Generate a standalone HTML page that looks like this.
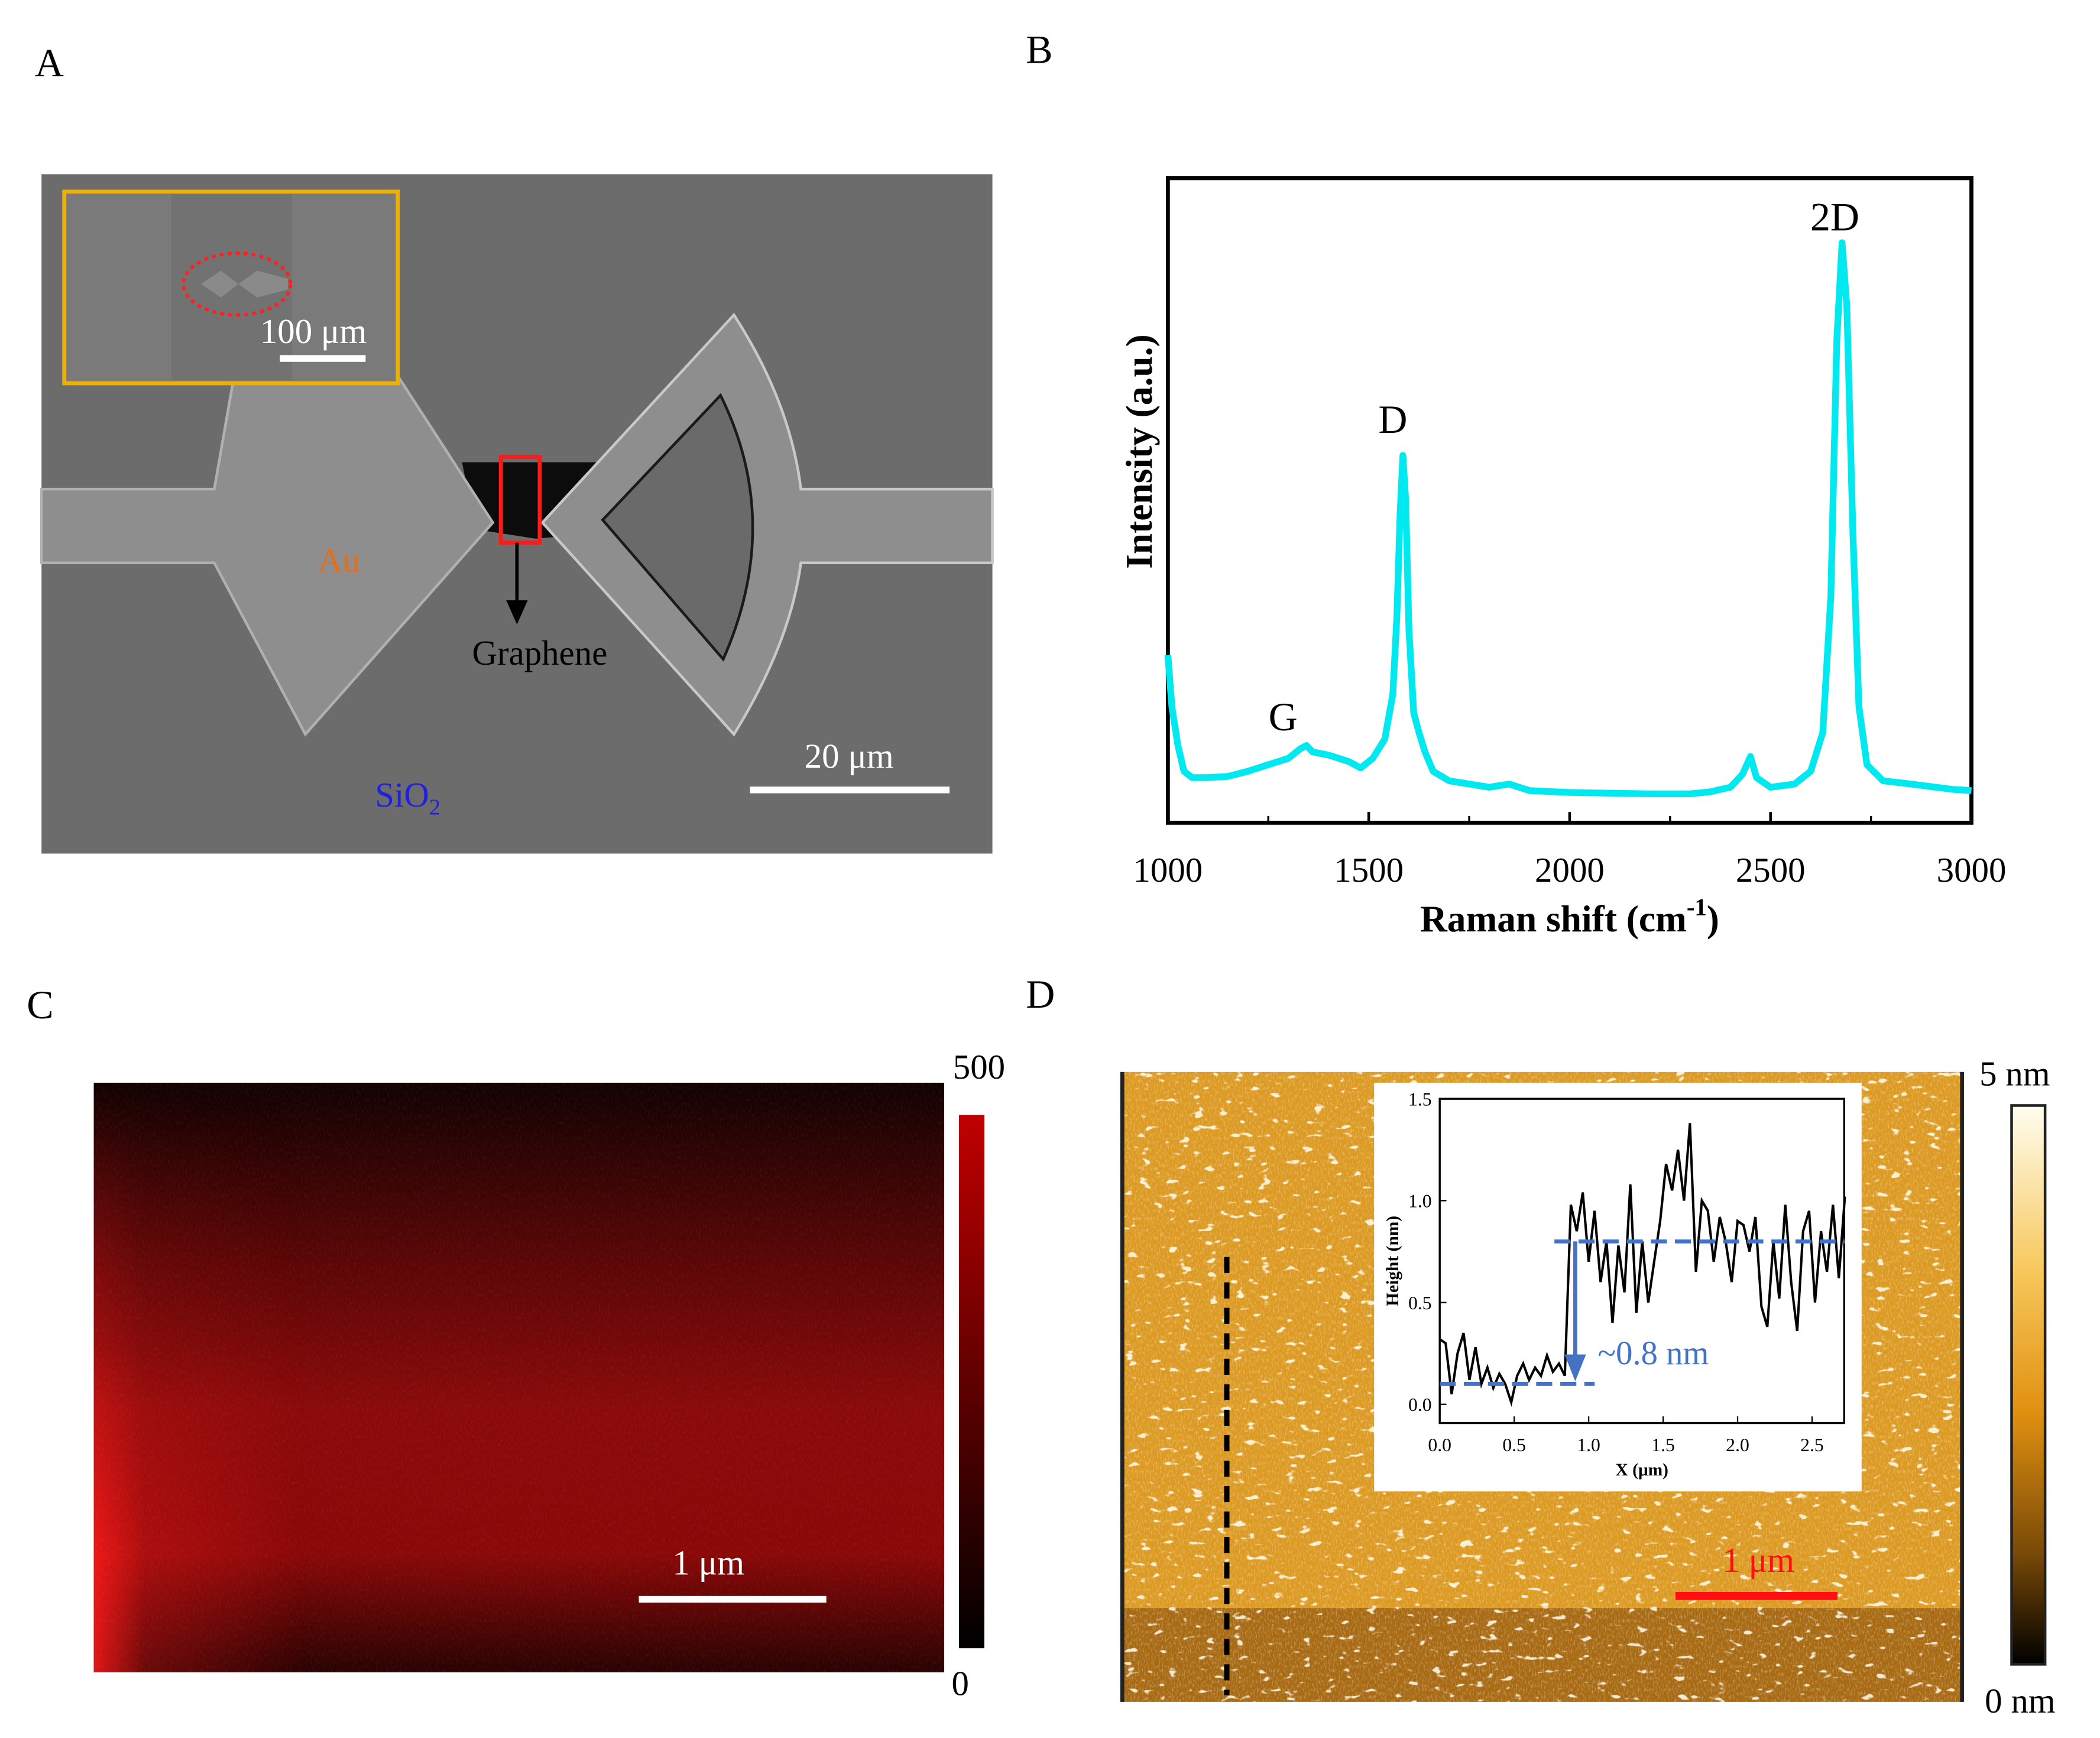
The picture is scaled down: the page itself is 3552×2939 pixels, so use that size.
<!DOCTYPE html>
<html><head><meta charset="utf-8">
<style>html,body{margin:0;padding:0;background:#fff}svg{display:block}text{font-family:"Liberation Serif",serif}</style>
</head><body>
<svg id="fig" width="3552" height="2939" viewBox="0 0 1568 1297" preserveAspectRatio="none" xmlns="http://www.w3.org/2000/svg">
<defs>
<filter id="noise" x="0" y="0" width="100%" height="100%"><feTurbulence type="fractalNoise" baseFrequency="0.9 0.35" numOctaves="2" seed="3"/><feColorMatrix values="0 0 0 0 1  0 0 0 0 1  0 0 0 0 1  0 0 0 1.6 -0.75"/></filter>
<filter id="specks" x="0" y="0" width="100%" height="100%"><feTurbulence type="fractalNoise" baseFrequency="0.1 0.2" numOctaves="2" seed="7"/><feColorMatrix values="0 0 0 0 1  0 0 0 0 1  0 0 0 0 0.9  0 0 0 12 -8"/></filter>
<linearGradient id="cV" x1="0" y1="0" x2="0" y2="1"><stop offset="0" stop-color="#120202"/><stop offset="0.3" stop-color="#5a0606"/><stop offset="0.55" stop-color="#8a0a0a"/><stop offset="0.8" stop-color="#8a0808"/><stop offset="1" stop-color="#2a0202"/></linearGradient>
<linearGradient id="cL" x1="0" y1="0" x2="1" y2="0"><stop offset="0" stop-color="#ff1a1a" stop-opacity="0.85"/><stop offset="0.06" stop-color="#ff1a1a" stop-opacity="0.3"/><stop offset="0.25" stop-color="#ff1a1a" stop-opacity="0"/></linearGradient>
<linearGradient id="cLmask" x1="0" y1="0" x2="0" y2="1"><stop offset="0" stop-color="#fff" stop-opacity="0"/><stop offset="0.45" stop-color="#fff" stop-opacity="0.35"/><stop offset="0.8" stop-color="#fff" stop-opacity="1"/><stop offset="1" stop-color="#fff" stop-opacity="1"/></linearGradient>
<mask id="cm"><rect x="70" y="808" width="635" height="440" fill="url(#cLmask)"/></mask>
<linearGradient id="cBar" x1="0" y1="0" x2="0" y2="1"><stop offset="0" stop-color="#c00000"/><stop offset="1" stop-color="#000"/></linearGradient>
<linearGradient id="dBar" x1="0" y1="0" x2="0" y2="1"><stop offset="0" stop-color="#fffdf0"/><stop offset="0.3" stop-color="#f7c75a"/><stop offset="0.55" stop-color="#e09010"/><stop offset="0.8" stop-color="#7a4a08"/><stop offset="1" stop-color="#000"/></linearGradient>
</defs>

<text x="26" y="57" font-size="30">A</text>
<text x="766" y="47" font-size="30">B</text>
<text x="20" y="760" font-size="30">C</text>
<text x="766" y="752" font-size="30">D</text>

<!-- Panel A -->
<g>
<rect x="31" y="130" width="710" height="507" fill="#6c6c6c"/>
<path d="M345,345 L470,345 L480,395 L400,402 L355,395 Z" fill="#0c0c0c"/>
<polygon points="31,365 160,365 178,262 285,262 368,390 228,548 160,420 31,420" fill="#8e8e8e" stroke="#b0b0b0" stroke-width="2"/>
<path d="M405,390 L548,235 Q590,300 598,365 L741,365 L741,420 L598,420 Q590,480 548,548 Z" fill="#8e8e8e" stroke="#c8c8c8" stroke-width="2"/>
<path d="M450,388 L538,295 Q585,390 540,492 Z" fill="#6a6a6a" stroke="#1a1a1a" stroke-width="2"/>
<rect x="48" y="143" width="249" height="143" fill="#7a7a7a" stroke="#f0b000" stroke-width="3"/>
<rect x="128" y="145" width="90" height="139" fill="#727272"/>
<polygon points="150,212 165,202 178,212 165,222" fill="#8a8a8a"/>
<polygon points="178,212 192,202 215,208 215,216 192,222" fill="#8a8a8a"/>
<ellipse cx="177" cy="212" rx="40" ry="23" fill="none" stroke="#ff2020" stroke-width="2.5" stroke-dasharray="3 3"/>
<text x="234" y="256" font-size="26" fill="#fff" text-anchor="middle">100 μm</text>
<rect x="209" y="265" width="64" height="5" fill="#fff"/>
<rect x="374" y="341" width="29" height="64" fill="none" stroke="#ff1a1a" stroke-width="3"/>
<line x1="386" y1="405" x2="386" y2="452" stroke="#000" stroke-width="2.5"/>
<polygon points="378,448 394,448 386,466" fill="#000"/>
<text x="403" y="496" font-size="26" text-anchor="middle">Graphene</text>
<text x="253" y="427" font-size="26" fill="#e07020" text-anchor="middle">Au</text>
<text x="280" y="602" font-size="26" fill="#2020e0">SiO<tspan font-size="17" dy="6">2</tspan></text>
<text x="634" y="573" font-size="26" fill="#fff" text-anchor="middle">20 μm</text>
<rect x="560" y="587" width="149" height="5" fill="#fff"/>
</g>

<!-- Panel B -->
<g id="raman">
<rect x="872" y="133" width="600" height="481" fill="none" stroke="#000" stroke-width="3"/>
<text x="0" y="0" transform="translate(860,337) rotate(-90)" font-size="28" font-weight="bold" text-anchor="middle">Intensity (a.u.)</text>
<text x="1172" y="695" font-size="28" font-weight="bold" text-anchor="middle">Raman shift (cm<tspan font-size="18" dy="-12">-1</tspan><tspan dy="12">)</tspan></text>
<text x="958" y="545" font-size="30" text-anchor="middle">G</text>
<text x="1040" y="323" font-size="30" text-anchor="middle">D</text>
<text x="1370" y="172" font-size="30" text-anchor="middle">2D</text>
</g>

<!-- Panel C -->
<g>
<rect x="70" y="808" width="635" height="440" fill="url(#cV)"/>
<rect x="70" y="808" width="635" height="440" fill="url(#cL)" mask="url(#cm)"/>
<rect x="70" y="808" width="635" height="440" filter="url(#noise)" opacity="0.08"/>
<rect x="477" y="1191" width="140" height="5" fill="#fff"/>
<text x="529" y="1175" font-size="26" fill="#fff" text-anchor="middle">1 μm</text>
<rect x="716" y="832" width="19" height="398" fill="url(#cBar)"/>
<text x="731" y="805" font-size="26" text-anchor="middle">500</text>
<text x="717" y="1265" font-size="26" text-anchor="middle">0</text>
</g>

<!-- Panel D -->
<g>
<rect x="838" y="800" width="627" height="470" fill="#dc9a22"/>
<rect x="838" y="1200" width="627" height="70" fill="#a86a12"/>
<rect x="838" y="800" width="627" height="470" filter="url(#noise)" opacity="0.5"/>
<rect x="838" y="800" width="627" height="470" filter="url(#specks)" opacity="0.85"/>
<line x1="838" y1="800" x2="838" y2="1270" stroke="#222" stroke-width="3"/>
<line x1="1465" y1="800" x2="1465" y2="1270" stroke="#222" stroke-width="3"/>
<line x1="916" y1="938" x2="916" y2="1265" stroke="#000" stroke-width="4" stroke-dasharray="12 7"/>
<rect x="1251" y="1188" width="121" height="6" fill="#ff1010"/>
<text x="1313" y="1173" font-size="26" fill="#ff1010" text-anchor="middle">1 μm</text>
<rect x="1502" y="825" width="25" height="417" fill="url(#dBar)" stroke="#222" stroke-width="2"/>
<text x="1478" y="810" font-size="26">5 nm</text>
<text x="1482" y="1278" font-size="26">0 nm</text>
<rect x="1026" y="808" width="364" height="305" fill="#fff"/>
</g>
<g id="profile">
<rect x="1075" y="820" width="302" height="242" fill="none" stroke="#000" stroke-width="1.5"/>
<text transform="translate(1044,941) rotate(-90)" font-size="13" font-weight="bold" text-anchor="middle">Height (nm)</text>
<text x="1226" y="1101" font-size="13" font-weight="bold" text-anchor="middle">X (μm)</text>
<text x="1193" y="1018" font-size="25" fill="#4472c4">~0.8 nm</text>
</g>
</svg>
<script>
const ramanShift=[1000,1010,1025,1040,1060,1100,1150,1200,1250,1300,1330,1345,1360,1400,1450,1480,1510,1540,1560,1570,1578,1585,1592,1600,1612,1625,1640,1660,1700,1800,1850,1900,2000,2100,2200,2300,2350,2400,2430,2450,2465,2500,2560,2600,2630,2650,2665,2678,2690,2705,2720,2740,2780,2850,2950,3000];
const ramanIntensity=[26,18,12,8,7,7,7.2,8,9,10,11.5,12,11,10.5,9.5,8.5,10,13,20,32,48,57,50,30,17,14,11,8,6.5,5.5,6,5,4.7,4.6,4.5,4.5,4.8,5.5,7.5,10.3,7,5.5,6,8,14,35,75,90,80,45,18,9,6.5,6,5.2,5];
const ramanTicks=[1000,1500,2000,2500,3000];
const profileX=[0.00,0.04,0.08,0.12,0.16,0.20,0.24,0.28,0.32,0.36,0.40,0.44,0.48,0.52,0.56,0.60,0.64,0.68,0.72,0.76,0.80,0.84,0.88,0.92,0.96,1.00,1.04,1.08,1.12,1.16,1.20,1.24,1.28,1.32,1.36,1.40,1.44,1.48,1.52,1.56,1.60,1.64,1.68,1.72,1.76,1.80,1.84,1.88,1.92,1.96,2.00,2.04,2.08,2.12,2.16,2.20,2.24,2.28,2.32,2.36,2.40,2.44,2.48,2.52,2.56,2.60,2.64,2.68,2.72];
const profileH=[0.32,0.30,0.05,0.25,0.35,0.12,0.28,0.10,0.18,0.08,0.15,0.10,0.01,0.14,0.20,0.12,0.18,0.14,0.24,0.16,0.20,0.14,0.98,0.85,1.04,0.70,0.95,0.60,0.80,0.40,0.78,0.55,1.08,0.45,0.80,0.50,0.70,0.90,1.18,1.05,1.25,1.00,1.38,0.65,1.00,0.95,0.70,0.92,0.80,0.60,0.90,0.88,0.75,0.92,0.48,0.38,0.80,0.52,0.98,0.60,0.36,0.85,0.95,0.50,0.85,0.65,0.98,0.62,1.02];
const profileXTicks=[0.0,0.5,1.0,1.5,2.0,2.5];
const profileYTicks=[0.0,0.5,1.0,1.5];
const stepLevels=[0.1,0.8];
const NS='http://www.w3.org/2000/svg';
function mk(tag,attrs,parent){const e=document.createElementNS(NS,tag);for(const k in attrs)e.setAttribute(k,attrs[k]);parent.appendChild(e);return e;}
const rx=v=>872+(v-1000)/2000*600, ry=v=>614-v/100*481;
const rg=document.getElementById('raman');
ramanTicks.forEach(t=>{
 const l=mk('line',{x1:rx(t),x2:rx(t),y1:614,y2:606,stroke:'#000','stroke-width':2},rg);
 
 
 const tx=mk('text',{x:rx(t),y:658,'font-size':26,'text-anchor':'middle'},rg);tx.textContent=t;
 
 
});
for(let i=0;i<ramanTicks.length-1;i++){const m=(ramanTicks[i]+ramanTicks[i+1])/2;mk('line',{x1:rx(m),x2:rx(m),y1:614,y2:609,stroke:'#000','stroke-width':1.5},rg);}
let d='';ramanShift.forEach((v,i)=>{d+=(i?'L':'M')+rx(v).toFixed(1)+','+ry(ramanIntensity[i]).toFixed(1);});
const rp=mk('path',{d:d,fill:'none',stroke:'#00e8f0','stroke-width':5,'stroke-linejoin':'round'},rg);


const px=v=>1075+v*111.2, py=v=>1048-v*152;
const pg=document.getElementById('profile');
profileXTicks.forEach(t=>{
 mk('line',{x1:px(t),x2:px(t),y1:1062,y2:1057,stroke:'#000','stroke-width':1},pg);
 const tx=mk('text',{x:px(t),y:1083,'font-size':14,'text-anchor':'middle'},pg);tx.textContent=t.toFixed(1);
 
 
});
profileYTicks.forEach(t=>{
 mk('line',{x1:1075,x2:1080,y1:py(t),y2:py(t),stroke:'#000','stroke-width':1},pg);
 const tx=mk('text',{x:1069,y:py(t)+5,'font-size':14,'text-anchor':'end'},pg);tx.textContent=t.toFixed(1);
 
 
});
let pd='';profileX.forEach((v,i)=>{pd+=(i?'L':'M')+px(v).toFixed(1)+','+py(profileH[i]).toFixed(1);});
const pl=mk('path',{d:pd,fill:'none',stroke:'#000','stroke-width':1.8},pg);


const lo=mk('line',{x1:px(0),x2:px(1.04),y1:py(stepLevels[0]),y2:py(stepLevels[0]),stroke:'#4472c4','stroke-width':3,'stroke-dasharray':'12 6'},pg);


const hi=mk('line',{x1:px(0.77),x2:px(2.72),y1:py(stepLevels[1]),y2:py(stepLevels[1]),stroke:'#4472c4','stroke-width':3,'stroke-dasharray':'12 6'},pg);


const ax=px(0.91);
const ar=mk('line',{x1:ax,x2:ax,y1:py(stepLevels[1]),y2:py(stepLevels[0])-18,stroke:'#4472c4','stroke-width':3},pg);


mk('polygon',{points:`${ax-8},${py(stepLevels[0])-22} ${ax+8},${py(stepLevels[0])-22} ${ax},${py(stepLevels[0])-2}`,fill:'#4472c4'},pg);
</script>
</body></html>
